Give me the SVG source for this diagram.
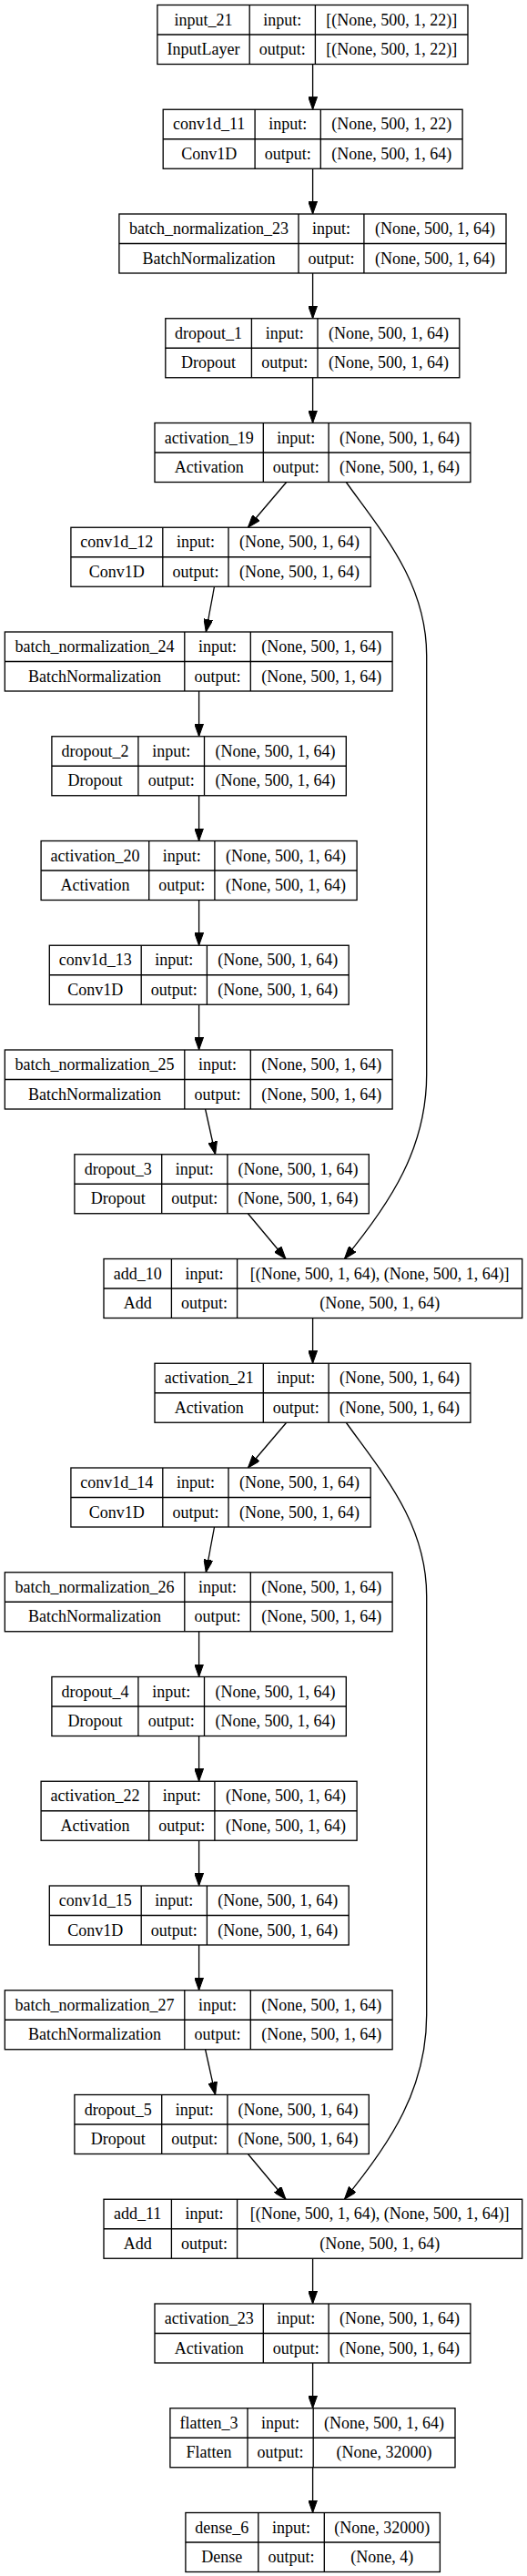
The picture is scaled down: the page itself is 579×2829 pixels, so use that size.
<svg xmlns="http://www.w3.org/2000/svg" width="579" height="2829" viewBox="0 0 579 2829">
<style>
.node rect{fill:#fff;stroke:#000;stroke-width:1.33}
.node path{fill:none;stroke:#000;stroke-width:1.33}
.node text{font-family:"Liberation Serif","Times New Roman",serif;font-size:18px;fill:#000;text-anchor:middle}
#edges path{fill:none;stroke:#000;stroke-width:1.33;marker-end:url(#arr)}
</style>
<defs>
<marker id="arr" markerUnits="userSpaceOnUse" viewBox="0 0 14 10" refX="14" refY="5" markerWidth="14" markerHeight="10" orient="auto">
<path d="M0,0 L14,5 L0,10 z" fill="#000" stroke="#000" stroke-width="1"/>
</marker>
</defs>
<rect x="0" y="0" width="579" height="2829" fill="#fff"/>
<g id="edges">
<path d="M343.6,70.5 V120.25"/>
<path d="M343.6,185.25 V235"/>
<path d="M343.6,300 V349.75"/>
<path d="M343.6,414.75 V464.5"/>
<path d="M314.7,529.5 L272.4,579.25"/>
<path d="M380.3,529.5 C420,585 468.7,640 468.7,720 L468.7,1180 C468.7,1260 430,1320 378.4,1382.5"/>
<path d="M235.5,644.25 L226.3,694"/>
<path d="M218.6,759 V808.75"/>
<path d="M218.6,873.75 V923.5"/>
<path d="M218.6,988.5 V1038.25"/>
<path d="M218.6,1103.25 V1153"/>
<path d="M225.6,1218 L236.6,1267.75"/>
<path d="M272.4,1332.75 L314,1382.5"/>
<path d="M343.6,1447.5 V1497.25"/>
<path d="M314.7,1562.25 L272.4,1612"/>
<path d="M380.3,1562.25 C420,1617.75 468.7,1672.75 468.7,1752.75 L468.7,2212.75 C468.7,2292.75 430,2352.75 378.4,2415.25"/>
<path d="M235.5,1677 L226.3,1726.75"/>
<path d="M218.6,1791.75 V1841.5"/>
<path d="M218.6,1906.5 V1956.25"/>
<path d="M218.6,2021.25 V2071"/>
<path d="M218.6,2136 V2185.75"/>
<path d="M225.6,2250.75 L236.6,2300.5"/>
<path d="M272.4,2365.5 L314,2415.25"/>
<path d="M343.6,2480.25 V2530"/>
<path d="M343.6,2595 V2644.75"/>
<path d="M343.6,2709.75 V2759.5"/>
</g>

<g id="input_21" class="node" transform="translate(0,5.5)">
<rect x="172.9" y="0" width="341.1" height="65"/>
<path d="M172.9,32.5 H514 M274.2,0 V65 M346.4,0 V65"/>
<text x="223.55" y="22.2">input_21</text><text x="223.55" y="54.7">InputLayer</text>
<text x="310.3" y="22.2">input:</text><text x="310.3" y="54.7">output:</text>
<text x="430.2" y="22.2">[(None, 500, 1, 22)]</text><text x="430.2" y="54.7">[(None, 500, 1, 22)]</text>
</g>

<g id="conv1d_11" class="node" transform="translate(0,120.25)">
<rect x="179.2" y="0" width="328.9" height="65"/>
<path d="M179.2,32.5 H508.1 M280.1,0 V65 M352.3,0 V65"/>
<text x="229.65" y="22.2">conv1d_11</text><text x="229.65" y="54.7">Conv1D</text>
<text x="316.2" y="22.2">input:</text><text x="316.2" y="54.7">output:</text>
<text x="430.2" y="22.2">(None, 500, 1, 22)</text><text x="430.2" y="54.7">(None, 500, 1, 64)</text>
</g>

<g id="batch_normalization_23" class="node" transform="translate(0,235)">
<rect x="130.9" y="0" width="425.1" height="65"/>
<path d="M130.9,32.5 H556 M328,0 V65 M399.9,0 V65"/>
<text x="229.45" y="22.2">batch_normalization_23</text><text x="229.45" y="54.7">BatchNormalization</text>
<text x="363.95" y="22.2">input:</text><text x="363.95" y="54.7">output:</text>
<text x="477.95" y="22.2">(None, 500, 1, 64)</text><text x="477.95" y="54.7">(None, 500, 1, 64)</text>
</g>

<g id="dropout_1" class="node" transform="translate(0,349.75)">
<rect x="181.8" y="0" width="323" height="65"/>
<path d="M181.8,32.5 H504.8 M276.4,0 V65 M349,0 V65"/>
<text x="229.1" y="22.2">dropout_1</text><text x="229.1" y="54.7">Dropout</text>
<text x="312.7" y="22.2">input:</text><text x="312.7" y="54.7">output:</text>
<text x="426.9" y="22.2">(None, 500, 1, 64)</text><text x="426.9" y="54.7">(None, 500, 1, 64)</text>
</g>

<g id="activation_19" class="node" transform="translate(0,464.5)">
<rect x="170" y="0" width="346.9" height="65"/>
<path d="M170,32.5 H516.9 M289.3,0 V65 M361.1,0 V65"/>
<text x="229.65" y="22.2">activation_19</text><text x="229.65" y="54.7">Activation</text>
<text x="325.2" y="22.2">input:</text><text x="325.2" y="54.7">output:</text>
<text x="439" y="22.2">(None, 500, 1, 64)</text><text x="439" y="54.7">(None, 500, 1, 64)</text>
</g>

<g id="conv1d_12" class="node" transform="translate(0,579.25)">
<rect x="77.9" y="0" width="329.3" height="65"/>
<path d="M77.9,32.5 H407.2 M178.8,0 V65 M251,0 V65"/>
<text x="128.35" y="22.2">conv1d_12</text><text x="128.35" y="54.7">Conv1D</text>
<text x="214.9" y="22.2">input:</text><text x="214.9" y="54.7">output:</text>
<text x="329.1" y="22.2">(None, 500, 1, 64)</text><text x="329.1" y="54.7">(None, 500, 1, 64)</text>
</g>

<g id="batch_normalization_24" class="node" transform="translate(0,694)">
<rect x="5.33" y="0" width="425.77" height="65"/>
<path d="M5.33,32.5 H431.1 M202.8,0 V65 M275.3,0 V65"/>
<text x="104.07" y="22.2">batch_normalization_24</text><text x="104.07" y="54.7">BatchNormalization</text>
<text x="239.05" y="22.2">input:</text><text x="239.05" y="54.7">output:</text>
<text x="353.2" y="22.2">(None, 500, 1, 64)</text><text x="353.2" y="54.7">(None, 500, 1, 64)</text>
</g>

<g id="dropout_2" class="node" transform="translate(0,808.75)">
<rect x="56.9" y="0" width="323.4" height="65"/>
<path d="M56.9,32.5 H380.3 M151.9,0 V65 M224.5,0 V65"/>
<text x="104.4" y="22.2">dropout_2</text><text x="104.4" y="54.7">Dropout</text>
<text x="188.2" y="22.2">input:</text><text x="188.2" y="54.7">output:</text>
<text x="302.4" y="22.2">(None, 500, 1, 64)</text><text x="302.4" y="54.7">(None, 500, 1, 64)</text>
</g>

<g id="activation_20" class="node" transform="translate(0,923.5)">
<rect x="45.1" y="0" width="347" height="65"/>
<path d="M45.1,32.5 H392.1 M163.7,0 V65 M235.9,0 V65"/>
<text x="104.4" y="22.2">activation_20</text><text x="104.4" y="54.7">Activation</text>
<text x="199.8" y="22.2">input:</text><text x="199.8" y="54.7">output:</text>
<text x="314" y="22.2">(None, 500, 1, 64)</text><text x="314" y="54.7">(None, 500, 1, 64)</text>
</g>

<g id="conv1d_13" class="node" transform="translate(0,1038.25)">
<rect x="54.3" y="0" width="328.9" height="65"/>
<path d="M54.3,32.5 H383.2 M155.2,0 V65 M227.4,0 V65"/>
<text x="104.75" y="22.2">conv1d_13</text><text x="104.75" y="54.7">Conv1D</text>
<text x="191.3" y="22.2">input:</text><text x="191.3" y="54.7">output:</text>
<text x="305.3" y="22.2">(None, 500, 1, 64)</text><text x="305.3" y="54.7">(None, 500, 1, 64)</text>
</g>

<g id="batch_normalization_25" class="node" transform="translate(0,1153)">
<rect x="5.33" y="0" width="425.77" height="65"/>
<path d="M5.33,32.5 H431.1 M202.8,0 V65 M275.3,0 V65"/>
<text x="104.07" y="22.2">batch_normalization_25</text><text x="104.07" y="54.7">BatchNormalization</text>
<text x="239.05" y="22.2">input:</text><text x="239.05" y="54.7">output:</text>
<text x="353.2" y="22.2">(None, 500, 1, 64)</text><text x="353.2" y="54.7">(None, 500, 1, 64)</text>
</g>

<g id="dropout_3" class="node" transform="translate(0,1267.75)">
<rect x="81.9" y="0" width="323.4" height="65"/>
<path d="M81.9,32.5 H405.3 M177.7,0 V65 M249.9,0 V65"/>
<text x="129.8" y="22.2">dropout_3</text><text x="129.8" y="54.7">Dropout</text>
<text x="213.8" y="22.2">input:</text><text x="213.8" y="54.7">output:</text>
<text x="327.6" y="22.2">(None, 500, 1, 64)</text><text x="327.6" y="54.7">(None, 500, 1, 64)</text>
</g>

<g id="add_10" class="node" transform="translate(0,1382.5)">
<rect x="114" y="0" width="459.7" height="65"/>
<path d="M114,32.5 H573.7 M188.4,0 V65 M260.6,0 V65"/>
<text x="151.2" y="22.2">add_10</text><text x="151.2" y="54.7">Add</text>
<text x="224.5" y="22.2">input:</text><text x="224.5" y="54.7">output:</text>
<text x="417.15" y="22.2">[(None, 500, 1, 64), (None, 500, 1, 64)]</text><text x="417.15" y="54.7">(None, 500, 1, 64)</text>
</g>

<g id="activation_21" class="node" transform="translate(0,1497.25)">
<rect x="170" y="0" width="346.9" height="65"/>
<path d="M170,32.5 H516.9 M289.3,0 V65 M361.1,0 V65"/>
<text x="229.65" y="22.2">activation_21</text><text x="229.65" y="54.7">Activation</text>
<text x="325.2" y="22.2">input:</text><text x="325.2" y="54.7">output:</text>
<text x="439" y="22.2">(None, 500, 1, 64)</text><text x="439" y="54.7">(None, 500, 1, 64)</text>
</g>

<g id="conv1d_14" class="node" transform="translate(0,1612)">
<rect x="77.9" y="0" width="329.3" height="65"/>
<path d="M77.9,32.5 H407.2 M178.8,0 V65 M251,0 V65"/>
<text x="128.35" y="22.2">conv1d_14</text><text x="128.35" y="54.7">Conv1D</text>
<text x="214.9" y="22.2">input:</text><text x="214.9" y="54.7">output:</text>
<text x="329.1" y="22.2">(None, 500, 1, 64)</text><text x="329.1" y="54.7">(None, 500, 1, 64)</text>
</g>

<g id="batch_normalization_26" class="node" transform="translate(0,1726.75)">
<rect x="5.33" y="0" width="425.77" height="65"/>
<path d="M5.33,32.5 H431.1 M202.8,0 V65 M275.3,0 V65"/>
<text x="104.07" y="22.2">batch_normalization_26</text><text x="104.07" y="54.7">BatchNormalization</text>
<text x="239.05" y="22.2">input:</text><text x="239.05" y="54.7">output:</text>
<text x="353.2" y="22.2">(None, 500, 1, 64)</text><text x="353.2" y="54.7">(None, 500, 1, 64)</text>
</g>

<g id="dropout_4" class="node" transform="translate(0,1841.5)">
<rect x="56.9" y="0" width="323.4" height="65"/>
<path d="M56.9,32.5 H380.3 M151.9,0 V65 M224.5,0 V65"/>
<text x="104.4" y="22.2">dropout_4</text><text x="104.4" y="54.7">Dropout</text>
<text x="188.2" y="22.2">input:</text><text x="188.2" y="54.7">output:</text>
<text x="302.4" y="22.2">(None, 500, 1, 64)</text><text x="302.4" y="54.7">(None, 500, 1, 64)</text>
</g>

<g id="activation_22" class="node" transform="translate(0,1956.25)">
<rect x="45.1" y="0" width="347" height="65"/>
<path d="M45.1,32.5 H392.1 M163.7,0 V65 M235.9,0 V65"/>
<text x="104.4" y="22.2">activation_22</text><text x="104.4" y="54.7">Activation</text>
<text x="199.8" y="22.2">input:</text><text x="199.8" y="54.7">output:</text>
<text x="314" y="22.2">(None, 500, 1, 64)</text><text x="314" y="54.7">(None, 500, 1, 64)</text>
</g>

<g id="conv1d_15" class="node" transform="translate(0,2071)">
<rect x="54.3" y="0" width="328.9" height="65"/>
<path d="M54.3,32.5 H383.2 M155.2,0 V65 M227.4,0 V65"/>
<text x="104.75" y="22.2">conv1d_15</text><text x="104.75" y="54.7">Conv1D</text>
<text x="191.3" y="22.2">input:</text><text x="191.3" y="54.7">output:</text>
<text x="305.3" y="22.2">(None, 500, 1, 64)</text><text x="305.3" y="54.7">(None, 500, 1, 64)</text>
</g>

<g id="batch_normalization_27" class="node" transform="translate(0,2185.75)">
<rect x="5.33" y="0" width="425.77" height="65"/>
<path d="M5.33,32.5 H431.1 M202.8,0 V65 M275.3,0 V65"/>
<text x="104.07" y="22.2">batch_normalization_27</text><text x="104.07" y="54.7">BatchNormalization</text>
<text x="239.05" y="22.2">input:</text><text x="239.05" y="54.7">output:</text>
<text x="353.2" y="22.2">(None, 500, 1, 64)</text><text x="353.2" y="54.7">(None, 500, 1, 64)</text>
</g>

<g id="dropout_5" class="node" transform="translate(0,2300.5)">
<rect x="81.9" y="0" width="323.4" height="65"/>
<path d="M81.9,32.5 H405.3 M177.7,0 V65 M249.9,0 V65"/>
<text x="129.8" y="22.2">dropout_5</text><text x="129.8" y="54.7">Dropout</text>
<text x="213.8" y="22.2">input:</text><text x="213.8" y="54.7">output:</text>
<text x="327.6" y="22.2">(None, 500, 1, 64)</text><text x="327.6" y="54.7">(None, 500, 1, 64)</text>
</g>

<g id="add_11" class="node" transform="translate(0,2415.25)">
<rect x="114" y="0" width="459.7" height="65"/>
<path d="M114,32.5 H573.7 M188.4,0 V65 M260.6,0 V65"/>
<text x="151.2" y="22.2">add_11</text><text x="151.2" y="54.7">Add</text>
<text x="224.5" y="22.2">input:</text><text x="224.5" y="54.7">output:</text>
<text x="417.15" y="22.2">[(None, 500, 1, 64), (None, 500, 1, 64)]</text><text x="417.15" y="54.7">(None, 500, 1, 64)</text>
</g>

<g id="activation_23" class="node" transform="translate(0,2530)">
<rect x="170" y="0" width="346.9" height="65"/>
<path d="M170,32.5 H516.9 M289.3,0 V65 M361.1,0 V65"/>
<text x="229.65" y="22.2">activation_23</text><text x="229.65" y="54.7">Activation</text>
<text x="325.2" y="22.2">input:</text><text x="325.2" y="54.7">output:</text>
<text x="439" y="22.2">(None, 500, 1, 64)</text><text x="439" y="54.7">(None, 500, 1, 64)</text>
</g>

<g id="flatten_3" class="node" transform="translate(0,2644.75)">
<rect x="186.9" y="0" width="313.1" height="65"/>
<path d="M186.9,32.5 H500 M272,0 V65 M344.2,0 V65"/>
<text x="229.45" y="22.2">flatten_3</text><text x="229.45" y="54.7">Flatten</text>
<text x="308.1" y="22.2">input:</text><text x="308.1" y="54.7">output:</text>
<text x="422.1" y="22.2">(None, 500, 1, 64)</text><text x="422.1" y="54.7">(None, 32000)</text>
</g>

<g id="dense_6" class="node" transform="translate(0,2759.5)">
<rect x="203.9" y="0" width="279.5" height="65"/>
<path d="M203.9,32.5 H483.4 M283.8,0 V65 M356.3,0 V65"/>
<text x="243.85" y="22.2">dense_6</text><text x="243.85" y="54.7">Dense</text>
<text x="320.05" y="22.2">input:</text><text x="320.05" y="54.7">output:</text>
<text x="419.85" y="22.2">(None, 32000)</text><text x="419.85" y="54.7">(None, 4)</text>
</g>
</svg>
